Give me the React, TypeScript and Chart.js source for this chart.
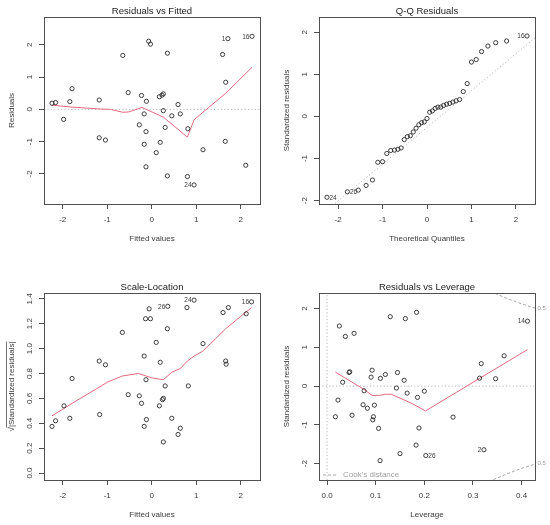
import React, { useEffect, useRef } from "react";
import { Chart, registerables } from "chart.js";

Chart.register(...registerables);

// ---------------- data ----------------
// Panel 1: Residuals vs Fitted
const RVF_FITTED = [-2.24, -2.16, -1.98, -1.84, -1.79, -1.18, -1.18, -1.04, -0.65, -0.53, -0.28, -0.23, -0.17, -0.17, -0.13, -0.12, -0.13, -0.07, -0.03, 0.1, 0.17, 0.19, 0.23, 0.26, 0.26, 0.3, 0.35, 0.35, 0.45, 0.59, 0.64, 0.8, 0.81, 0.95, 1.15, 1.59, 1.66, 1.65, 1.71, 2.11, 2.25];
const RVF_RESID = [0.19, 0.21, -0.31, 0.24, 0.64, 0.29, -0.88, -0.95, 1.67, 0.52, -0.48, 0.43, -0.14, -1.08, -0.69, 0.25, -1.78, 2.11, 2.02, -1.34, 0.39, -1.02, 0.44, 0.48, -0.04, -0.56, 1.74, -2.06, -0.2, 0.15, -0.14, -2.08, -0.6, -2.34, -1.25, 1.7, 0.84, -0.99, 2.19, -1.73, 2.26];
const RVF_ID_INDEX = [33, 40, 38];
const RVF_ID_TEXT = ["24", "16", "1"];
const RVF_SMOOTH_X = [-2.24, -1.79, -1.15, -0.93, -0.65, -0.52, -0.22, 0.26, 0.8, 0.95, 1.66, 2.25];
const RVF_SMOOTH_Y = [0.13, 0.07, 0.01, 0.0, -0.09, -0.08, 0.06, -0.24, -0.86, -0.32, 0.5, 1.3];

// Panel 2: Q-Q Residuals
const QQ_THEORETICAL = [-2.251, -1.791, -1.546, -1.37, -1.227, -1.107, -1.0, -0.904, -0.816, -0.733, -0.655, -0.582, -0.511, -0.442, -0.375, -0.31, -0.246, -0.184, -0.122, -0.061, 0, 0.061, 0.122, 0.184, 0.246, 0.31, 0.375, 0.442, 0.511, 0.582, 0.655, 0.733, 0.816, 0.904, 1.0, 1.107, 1.227, 1.37, 1.546, 1.791, 2.251];
const QQ_STD_RESID = [-1.92, -1.79, -1.75, -1.64, -1.51, -1.09, -1.075, -0.88, -0.81, -0.8, -0.78, -0.75, -0.55, -0.48, -0.46, -0.37, -0.28, -0.2, -0.15, -0.13, -0.05, 0.1, 0.13, 0.19, 0.22, 0.22, 0.26, 0.29, 0.31, 0.34, 0.37, 0.4, 0.59, 0.78, 1.29, 1.35, 1.54, 1.67, 1.75, 1.79, 1.91];
const QQ_ID_INDEX = [0, 1, 40];
const QQ_ID_TEXT = ["24", "26", "16"];
const QQ_LINE_X = [-2.6, 2.6];
const QQ_LINE_Y = [-2.53, 2.01];

// Panel 3: Scale-Location
const SL_FITTED = [-2.24, -2.16, -1.97, -1.84, -1.79, -1.18, -1.17, -1.04, -0.66, -0.53, -0.28, -0.23, -0.17, -0.17, -0.13, -0.14, -0.12, -0.06, -0.03, 0.1, 0.17, 0.19, 0.24, 0.26, 0.26, 0.3, 0.35, 0.36, 0.45, 0.59, 0.64, 0.79, 0.82, 0.95, 1.15, 1.6, 1.66, 1.67, 1.72, 2.12, 2.24];
const SL_SQRT_STD = [0.375, 0.42, 0.54, 0.44, 0.76, 0.9, 0.47, 0.87, 1.13, 0.63, 0.62, 0.56, 0.94, 0.375, 0.75, 1.24, 0.43, 1.32, 1.24, 1.05, 0.54, 0.89, 0.59, 0.6, 0.25, 0.7, 1.16, 1.34, 0.44, 0.31, 0.36, 1.33, 0.7, 1.39, 1.04, 1.29, 0.9, 0.875, 1.33, 1.28, 1.376];
const SL_ID_INDEX = [27, 33, 40];
const SL_ID_TEXT = ["26", "24", "16"];
const SL_SMOOTH_X = [-2.24, -1.79, -1.18, -1.0, -0.66, -0.3, -0.13, 0.0, 0.26, 0.45, 0.64, 0.8, 0.95, 1.15, 1.66, 2.24];
const SL_SMOOTH_Y = [0.46, 0.56, 0.69, 0.73, 0.78, 0.8, 0.78, 0.765, 0.75, 0.81, 0.84, 0.9, 0.94, 0.98, 1.16, 1.33];

// Panel 4: Residuals vs Leverage
const RVL_LEVERAGE = [0.0254, 0.0377, 0.0556, 0.13, 0.161, 0.184, 0.0172, 0.0226, 0.0322, 0.0453, 0.0466, 0.0515, 0.0762, 0.0741, 0.083, 0.0906, 0.0926, 0.0974, 0.0954, 0.094, 0.1098, 0.12, 0.106, 0.109, 0.1427, 0.1448, 0.1585, 0.1647, 0.186, 0.2, 0.189, 0.15, 0.183, 0.203, 0.259, 0.3136, 0.317, 0.3225, 0.3465, 0.364, 0.412];
const RVL_STD_RESID = [1.55, 1.28, 1.36, 1.79, 1.74, 1.9, -0.79, -0.36, 0.1, 0.35, 0.37, -0.75, -0.12, -0.48, -0.57, 0.23, 0.41, -0.49, -0.79, -0.87, 0.2, 0.3, -1.09, -1.92, -0.05, 0.35, 0.15, -0.18, -0.29, -0.13, -1.08, -1.74, -1.52, -1.79, -0.8, 0.205, 0.58, -1.64, 0.19, 0.78, 1.675];
const RVL_ID_INDEX = [40, 33, 37];
const RVL_ID_TEXT = ["14", "26", "2"];
const RVL_SMOOTH_X = [0.0172, 0.0762, 0.0926, 0.106, 0.12, 0.132, 0.175, 0.2024, 0.3136, 0.412];
const RVL_SMOOTH_Y = [0.36, -0.085, -0.24, -0.24, -0.21, -0.21, -0.45, -0.64, 0.2, 0.94];
const COOK_UPPER_X = [0.3455, 0.37, 0.4, 0.43];
const COOK_UPPER_Y = [2.39, 2.26, 2.12, 2.0];
const COOK_LOWER_X = [0.342, 0.37, 0.4, 0.43];
const COOK_LOWER_Y = [-2.41, -2.26, -2.12, -2.0];
const COOK_LEVEL_LABELS = ["0.5", "0.5"];
const COOK_LEVEL_Y = [2.0, -2.0];

// ticks
const FIT_TICKS = [-2, -1, 0, 1, 2];
const FIT_TICK_LABELS = ["-2", "-1", "0", "1", "2"];
const RES_TICKS = [-2, -1, 0, 1, 2];
const RES_TICK_LABELS = ["-2", "-1", "0", "1", "2"];
const SL_TICKS = [0, 0.2, 0.4, 0.6, 0.8, 1.0, 1.2, 1.4];
const SL_TICK_LABELS = ["0.0", "0.2", "0.4", "0.6", "0.8", "1.0", "1.2", "1.4"];
const LEV_TICKS = [0, 0.1, 0.2, 0.3, 0.4];
const LEV_TICK_LABELS = ["0.0", "0.1", "0.2", "0.3", "0.4"];

// ---------------- styling ----------------
const FONT = '"Liberation Sans", Arial, Helvetica, sans-serif';
const TEXT = "#3a3a3a";
const BOX = "#505050";
const POINT = "#2a2a2a";
const SMOOTH = "#E06B80";
const REF = "#b8b8b8";

type Spec = {
  title: string;
  xTitle: string;
  yTitle: string;
  yTitleRadical?: boolean;
  xMin: number; xMax: number; yMin: number; yMax: number;
  xTicks: number[]; xTickLabels: string[];
  yTicks: number[]; yTickLabels: string[];
  px: number[]; py: number[];
  idIndex: number[]; idText: string[];
  lines: any[];
  extra?: (ctx: CanvasRenderingContext2D, chart: any) => void;
  boxTop: number; boxBottom: number;
};

const pts = (xs: number[], ys: number[]) => xs.map((x, i) => ({ x, y: ys[i] }));

const lineDs = (data: any[], color: string, dash: number[], width = 1) => ({
  data,
  showLine: true,
  pointRadius: 0,
  pointHoverRadius: 0,
  borderColor: color,
  borderWidth: width,
  borderDash: dash,
  fill: false,
  tension: 0,
});

function buildConfig(s: Spec, W: number, H: number): any {
  const BOX_LEFT = 44;
  const BOX_RIGHT = 260;
  const overlay = {
    id: "rplot",
    afterDraw(chart: any) {
      const { ctx, chartArea: a, scales } = chart;
      const xs = scales.x;
      const ys = scales.y;
      ctx.save();
      // box
      ctx.strokeStyle = BOX;
      ctx.lineWidth = 1;
      ctx.setLineDash([]);
      ctx.strokeRect(Math.round(a.left) + 0.5, Math.round(a.top) + 0.5, Math.round(a.right - a.left), Math.round(a.bottom - a.top));
      // tick labels
      ctx.fillStyle = TEXT;
      ctx.font = `8px ${FONT}`;
      ctx.textAlign = "center";
      ctx.textBaseline = "middle";
      s.xTicks.forEach((v, i) => ctx.fillText(s.xTickLabels[i], xs.getPixelForValue(v), a.bottom + 16));
      s.yTicks.forEach((v, i) => {
        ctx.save();
        ctx.translate(a.left - 14, ys.getPixelForValue(v));
        ctx.rotate(-Math.PI / 2);
        ctx.fillText(s.yTickLabels[i], 0, 0);
        ctx.restore();
      });
      // axis titles
      ctx.fillText(s.xTitle, (a.left + a.right) / 2, a.bottom + 35);
      ctx.save();
      ctx.translate(11.7, (a.top + a.bottom) / 2);
      ctx.rotate(-Math.PI / 2);
      if (s.yTitleRadical) {
        const rad = "\u221A";
        const body = "|" + s.yTitle + "|";
        const wr = ctx.measureText(rad).width;
        const wb = ctx.measureText(body).width;
        const start = -(wr + wb) / 2;
        ctx.textAlign = "left";
        ctx.fillText(rad, start, 0);
        ctx.fillText(body, start + wr, 0);
        ctx.strokeStyle = TEXT;
        ctx.lineWidth = 0.7;
        ctx.beginPath();
        ctx.moveTo(start + wr - 0.5, -5.2);
        ctx.lineTo(start + wr + wb, -5.2);
        ctx.stroke();
      } else {
        ctx.fillText(s.yTitle, 0, 0);
      }
      ctx.restore();
      // main title
      ctx.font = `9.5px ${FONT}`;
      ctx.fillStyle = "#222";
      ctx.fillText(s.title, (a.left + a.right) / 2, a.top - 6);
      // id labels
      ctx.font = `6.5px ${FONT}`;
      ctx.fillStyle = TEXT;
      const mid = (Math.min(...s.px) + Math.max(...s.px)) / 2;
      s.idIndex.forEach((idx, k) => {
        const x = s.px[idx];
        const X = xs.getPixelForValue(x);
        const Y = ys.getPixelForValue(s.py[idx]);
        if (x > mid) {
          ctx.textAlign = "right";
          ctx.fillText(s.idText[k], X - 2.5, Y + 0.5);
        } else {
          ctx.textAlign = "left";
          ctx.fillText(s.idText[k], X + 2.5, Y + 0.5);
        }
      });
      if (s.extra) s.extra(ctx, chart);
      ctx.restore();
    },
  };

  const axisCommon = {
    type: "linear",
    ticks: { display: false },
    grid: { drawOnChartArea: false, drawTicks: true, tickLength: 5, color: BOX, lineWidth: 1 },
    border: { display: false },
  };

  return {
    type: "scatter",
    data: {
      datasets: [
        {
          data: pts(s.px, s.py),
          showLine: false,
          pointStyle: "circle",
          pointRadius: 2.1,
          pointHoverRadius: 2.1,
          pointBorderWidth: 0.9,
          pointBorderColor: POINT,
          pointBackgroundColor: "rgba(0,0,0,0)",
        },
        ...s.lines,
      ],
    },
    options: {
      responsive: false,
      animation: false,
      events: [],
      layout: { padding: { left: 0, right: W - BOX_RIGHT, top: s.boxTop, bottom: 0 } },
      plugins: { legend: { display: false }, tooltip: { enabled: false }, title: { display: false } },
      scales: {
        x: {
          ...axisCommon,
          position: "bottom",
          min: s.xMin,
          max: s.xMax,
          afterBuildTicks: (sc: any) => { sc.ticks = s.xTicks.map((v) => ({ value: v })); },
          afterFit: (sc: any) => { sc.height = H - s.boxBottom; },
        },
        y: {
          ...axisCommon,
          position: "left",
          min: s.yMin,
          max: s.yMax,
          afterBuildTicks: (sc: any) => { sc.ticks = s.yTicks.map((v) => ({ value: v })); },
          afterFit: (sc: any) => { sc.width = BOX_LEFT; },
        },
      },
    },
    plugins: [overlay],
  };
}

function Panel({ spec, left, top, width, height }: { spec: Spec; left: number; top: number; width: number; height: number }) {
  const ref = useRef<HTMLCanvasElement>(null);
  useEffect(() => {
    const chart = new Chart(ref.current as HTMLCanvasElement, buildConfig(spec, width, height));
    return () => chart.destroy();
  }, []);
  return (
    <canvas
      ref={ref}
      width={width}
      height={height}
      style={{ position: "absolute", left, top, width, height, display: "block" }}
    />
  );
}

const TOP = { boxTop: 17, boxBottom: 204 };
const BOTTOM = { boxTop: 31, boxBottom: 218 };

const rvf: Spec = {
  title: "Residuals vs Fitted",
  xTitle: "Fitted values",
  yTitle: "Residuals",
  xMin: -2.42, xMax: 2.43, yMin: -2.93, yMax: 2.86,
  xTicks: FIT_TICKS, xTickLabels: FIT_TICK_LABELS,
  yTicks: RES_TICKS, yTickLabels: RES_TICK_LABELS,
  px: RVF_FITTED, py: RVF_RESID,
  idIndex: RVF_ID_INDEX, idText: RVF_ID_TEXT,
  lines: [
    lineDs(pts(RVF_SMOOTH_X, RVF_SMOOTH_Y), SMOOTH, []),
    lineDs([{ x: -2.42, y: 0 }, { x: 2.43, y: 0 }], REF, [1.2, 2.2]),
  ],
  ...TOP,
};

const qq: Spec = {
  title: "Q-Q Residuals",
  xTitle: "Theoretical Quantiles",
  yTitle: "Standardized residuals",
  xMin: -2.43, xMax: 2.43, yMin: -2.08, yMax: 2.36,
  xTicks: FIT_TICKS, xTickLabels: FIT_TICK_LABELS,
  yTicks: RES_TICKS, yTickLabels: RES_TICK_LABELS,
  px: QQ_THEORETICAL, py: QQ_STD_RESID,
  idIndex: QQ_ID_INDEX, idText: QQ_ID_TEXT,
  lines: [lineDs(pts(QQ_LINE_X, QQ_LINE_Y), REF, [1.2, 2.2])],
  ...TOP,
};

const sl: Spec = {
  title: "Scale-Location",
  xTitle: "Fitted values",
  yTitle: "Standardized residuals",
  yTitleRadical: true,
  xMin: -2.42, xMax: 2.43, yMin: -0.056, yMax: 1.447,
  xTicks: FIT_TICKS, xTickLabels: FIT_TICK_LABELS,
  yTicks: SL_TICKS, yTickLabels: SL_TICK_LABELS,
  px: SL_FITTED, py: SL_SQRT_STD,
  idIndex: SL_ID_INDEX, idText: SL_ID_TEXT,
  lines: [lineDs(pts(SL_SMOOTH_X, SL_SMOOTH_Y), SMOOTH, [])],
  ...BOTTOM,
};

const rvl: Spec = {
  title: "Residuals vs Leverage",
  xTitle: "Leverage",
  yTitle: "Standardized residuals",
  xMin: -0.0165, xMax: 0.4275, yMin: -2.42, yMax: 2.4,
  xTicks: LEV_TICKS, xTickLabels: LEV_TICK_LABELS,
  yTicks: RES_TICKS, yTickLabels: RES_TICK_LABELS,
  px: RVL_LEVERAGE, py: RVL_STD_RESID,
  idIndex: RVL_ID_INDEX, idText: RVL_ID_TEXT,
  lines: [
    lineDs(pts(RVL_SMOOTH_X, RVL_SMOOTH_Y), SMOOTH, []),
    lineDs([{ x: -0.0165, y: 0 }, { x: 0.4275, y: 0 }], REF, [1.2, 2.2]),
    lineDs([{ x: 0, y: -2.42 }, { x: 0, y: 2.4 }], REF, [1.2, 2.2]),
    lineDs(pts(COOK_UPPER_X, COOK_UPPER_Y), "#a8a8a8", [3, 2]),
    lineDs(pts(COOK_LOWER_X, COOK_LOWER_Y), "#a8a8a8", [3, 2]),
  ],
  extra: (ctx, chart) => {
    const { chartArea: a, scales } = chart;
    ctx.font = `6px ${FONT}`;
    ctx.fillStyle = "#9a9a9a";
    ctx.textAlign = "left";
    ctx.textBaseline = "middle";
    COOK_LEVEL_Y.forEach((v, i) => ctx.fillText(COOK_LEVEL_LABELS[i], a.right + 2.5, scales.y.getPixelForValue(v)));
    // legend
    const ly = a.bottom - 5;
    ctx.strokeStyle = "#a8a8a8";
    ctx.lineWidth = 1;
    ctx.setLineDash([3, 2]);
    ctx.beginPath();
    ctx.moveTo(a.left + 4, ly);
    ctx.lineTo(a.left + 18, ly);
    ctx.stroke();
    ctx.setLineDash([]);
    ctx.font = `8px ${FONT}`;
    ctx.fillStyle = "#a0a0a0";
    ctx.fillText("Cook's distance", a.left + 24, ly);
  },
  ...BOTTOM,
};

export default function App() {
  return (
    <div style={{ position: "absolute", left: 0, top: 0, width: 550, height: 525, background: "#fff" }}>
      <Panel spec={rvf} left={0} top={0} width={275} height={262} />
      <Panel spec={qq} left={275} top={0} width={275} height={262} />
      <Panel spec={sl} left={0} top={262} width={275} height={263} />
      <Panel spec={rvl} left={275} top={262} width={275} height={263} />
    </div>
  );
}
